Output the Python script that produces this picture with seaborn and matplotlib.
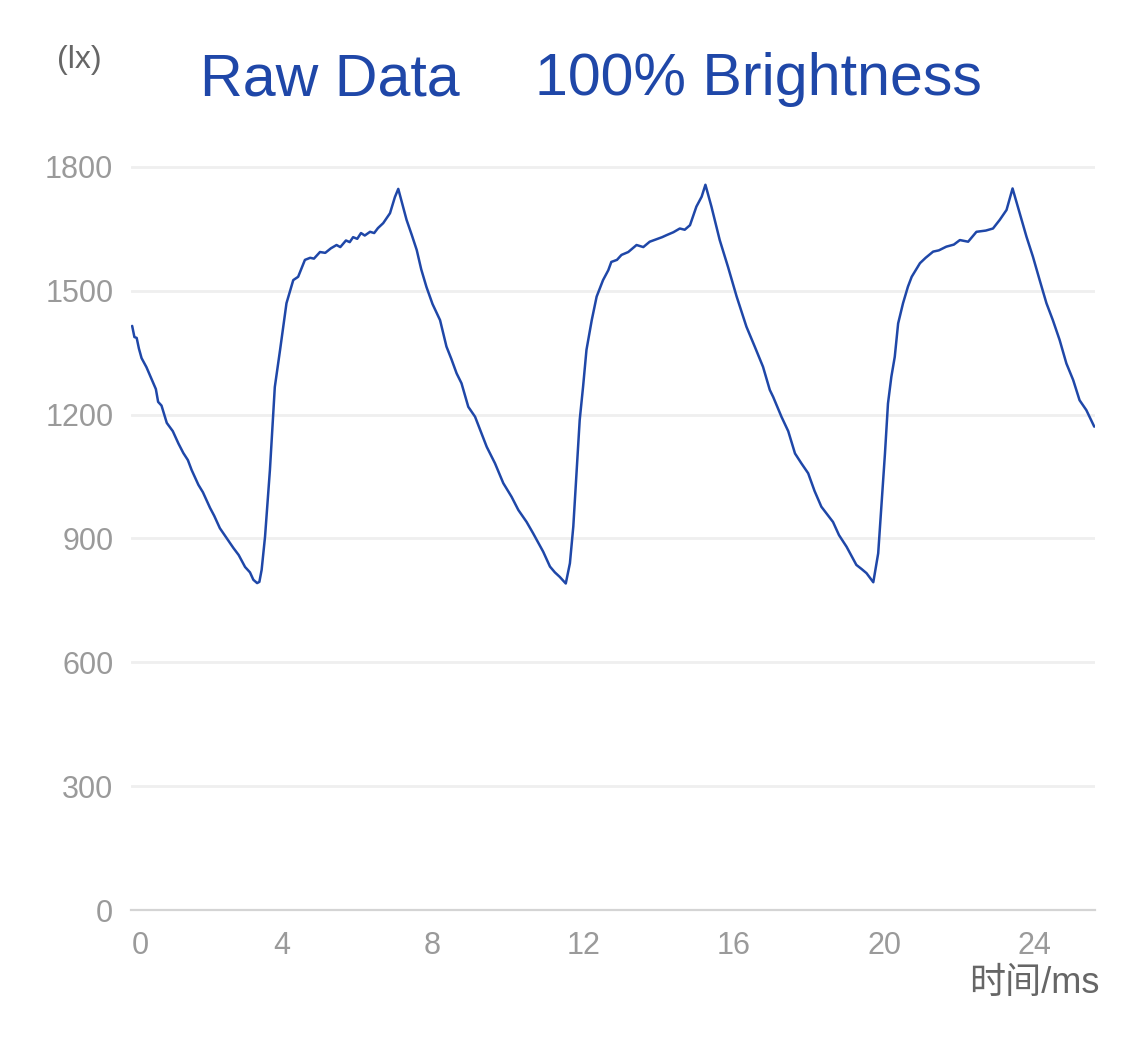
import matplotlib
matplotlib.use("Agg")
import matplotlib.pyplot as plt
import seaborn as sns

# time (ms) and illuminance (lx)
time_ms = [
    0.02, 0.08, 0.14, 0.20, 0.27, 0.40, 0.58, 0.65, 0.71, 0.80, 0.94, 1.10,
    1.25, 1.38, 1.50, 1.60, 1.78, 1.90, 2.09, 2.20, 2.35, 2.50, 2.71, 2.85,
    3.02, 3.15, 3.24, 3.34, 3.40, 3.46, 3.55, 3.68, 3.81, 3.95, 4.12, 4.30,
    4.43, 4.61, 4.75, 4.85, 5.01, 5.15, 5.30, 5.45, 5.55, 5.70, 5.80, 5.89,
    6.00, 6.10, 6.20, 6.34, 6.45, 6.55, 6.69, 6.87, 7.00, 7.09, 7.20, 7.31,
    7.45, 7.58, 7.70, 7.84, 8.00, 8.20,
    8.37, 8.50, 8.64, 8.77, 8.95, 9.13, 9.30, 9.44, 9.66, 9.88, 10.10, 10.28,
    10.50, 10.67, 10.94, 11.12, 11.25, 11.38, 11.54, 11.65, 11.74, 11.83,
    11.91, 12.00, 12.09, 12.23, 12.36, 12.53, 12.67, 12.75, 12.90, 13.02,
    13.20, 13.42, 13.60, 13.77, 13.95, 14.10, 14.22, 14.40, 14.57, 14.70,
    14.84, 15.01, 15.15, 15.25, 15.41, 15.63, 15.85, 16.08, 16.34, 16.56,
    16.78, 16.96,
    17.05, 17.27, 17.45, 17.63, 17.80, 17.98, 18.15, 18.33, 18.64, 18.80,
    19.00, 19.26, 19.40, 19.53, 19.71, 19.84, 19.93, 20.02, 20.10, 20.19,
    20.28, 20.37, 20.50, 20.63, 20.73, 20.95, 21.10, 21.30, 21.45, 21.65,
    21.85, 22.01, 22.23, 22.45, 22.70, 22.89, 23.07, 23.25, 23.41, 23.60,
    23.78, 23.95, 24.13, 24.31, 24.48, 24.66, 24.84, 25.02, 25.19, 25.37,
    25.58,
]
lux = [
    1415, 1388, 1386, 1360, 1337, 1315, 1277, 1262, 1231, 1222, 1180, 1160,
    1130, 1107, 1090, 1066, 1030, 1012, 974, 955, 925, 905, 877, 860,
    831, 818, 800, 792, 795, 824, 904, 1066, 1267, 1357, 1470, 1526,
    1534, 1575, 1580, 1578, 1594, 1592, 1603, 1611, 1606, 1622, 1618, 1630,
    1626, 1640, 1634, 1643, 1640, 1652, 1664, 1688, 1727, 1747, 1710, 1672,
    1635, 1599, 1552, 1509, 1468, 1429,
    1365, 1335, 1300, 1276, 1219, 1195, 1155, 1122, 1082, 1034, 1001, 969,
    940, 913, 868, 832, 818, 807, 791, 840, 929, 1066,
    1187, 1268, 1357, 1429, 1486, 1526, 1550, 1570, 1575, 1587,
    1594, 1611, 1606, 1619, 1625, 1630, 1635, 1642, 1651, 1648,
    1659, 1704, 1728, 1757, 1704, 1623, 1558, 1486, 1413, 1365,
    1316, 1260,
    1243, 1195, 1160, 1106, 1082, 1058, 1015, 977, 940, 908,
    880, 836, 826, 816, 794, 864, 985, 1106, 1227, 1292,
    1340, 1421, 1470, 1510, 1534, 1567, 1580, 1595, 1598, 1607,
    1612, 1623, 1619, 1643, 1646, 1651, 1672, 1696, 1748, 1688,
    1631, 1583, 1526, 1470, 1429, 1381, 1324, 1284, 1235, 1211,
    1171,
]

y_ticks = [0, 300, 600, 900, 1200, 1500, 1800]
x_ticks = [0, 4, 8, 12, 16, 20, 24]

sns.set_theme(style="white")
plt.rcParams["font.family"] = ["Liberation Sans", "Noto Sans CJK SC"]

fig = plt.figure(figsize=(11.25, 10.4), dpi=100)
# plot area in pixels: x 131..1095, y(0)=910, 0.4128 px per lx
ax = fig.add_axes([131.4 / 1125, 130 / 1040, (1095 - 131.4) / 1125, 1850 * 0.41278 / 1040])

sns.lineplot(x=time_ms, y=lux, color="#1f47a8", linewidth=1.8,
             estimator=None, sort=False, ax=ax)

ax.set_xlim(0, 25.6)
ax.set_ylim(0, 1850)
ax.set_yticks(y_ticks)
ax.set_xticks(x_ticks)
ax.set_xlabel("")
ax.set_ylabel("")

ax.yaxis.grid(True, color="#efefef", linewidth=2)
ax.xaxis.grid(False)
for side in ["top", "right", "left"]:
    ax.spines[side].set_visible(False)
ax.spines["bottom"].set_color("#d4d4d4")
ax.spines["bottom"].set_linewidth(1.6)

ax.tick_params(axis="both", length=0, labelsize=22, labelcolor="#9a9a9a")
ax.tick_params(axis="y", pad=13)
ax.tick_params(axis="x", pad=15)
# first x label sits inside the axis start
ax.xaxis.get_major_ticks()[0].label1.set_horizontalalignment("left")

# titles and unit labels
fig.text(200 / 1125, 1 - 95 / 1040, "Raw Data", fontsize=42.6, color="#1f47a8",
         ha="left", va="baseline")
fig.text(535 / 1125, 1 - 95 / 1040, "100% Brightness", fontsize=42.6, color="#1f47a8",
         ha="left", va="baseline")
fig.text(79 / 1125, 1 - 60 / 1040, "(lx)", fontsize=23, color="#666666",
         ha="center", va="center")
fig.text(1099 / 1125, 1 - 993 / 1040, "时间/ms", fontsize=26, color="#666666",
         ha="right", va="baseline", family=["Liberation Sans", "Noto Sans CJK SC"])

fig.savefig("out.png", dpi=100, facecolor="white")
